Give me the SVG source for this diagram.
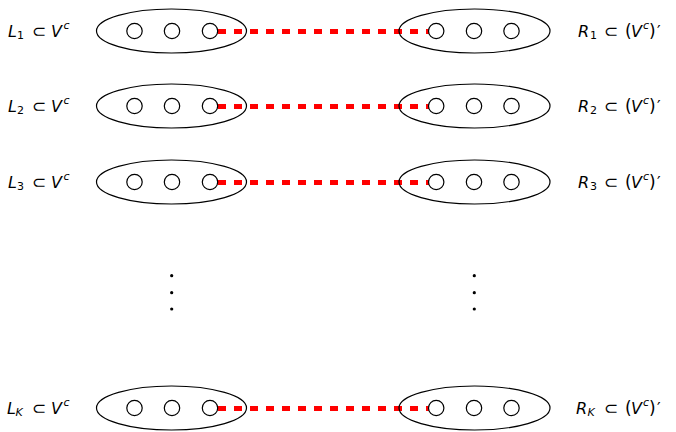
<svg xmlns="http://www.w3.org/2000/svg" width="676" height="432" viewBox="0 0 676 432">
<style>
.set{fill:none;stroke:#000;stroke-width:1.2}
.pt{fill:#fff;stroke:#000;stroke-width:1.2}
.link{stroke:#f00;stroke-width:5;stroke-dasharray:8 8;fill:none}
.lbl{font-family:"DejaVu Sans",sans-serif;font-size:16px;fill:#000}
.it{font-style:italic}
.sm{font-size:11px}
.op{font-size:17px}
.dot{fill:#000}
</style>
<defs>
<g id="setL">
<ellipse class="set" cx="171.5" cy="0" rx="75" ry="22"/>
<circle class="pt" cx="134.5" cy="0" r="7.7"/>
<circle class="pt" cx="172" cy="0" r="7.7"/>
<circle class="pt" cx="210" cy="0" r="7.7"/>
</g>
<g id="setR">
<ellipse class="set" cx="474.5" cy="0" rx="75.5" ry="22"/>
<circle class="pt" cx="436.2" cy="0" r="7.7"/>
<circle class="pt" cx="474" cy="0" r="7.7"/>
<circle class="pt" cx="511.5" cy="0" r="7.7"/>
</g>
</defs>

<g id="connectors">
<line class="link" x1="218" y1="31.5" x2="436" y2="31.5"/>
<line class="link" x1="218" y1="106.5" x2="436" y2="106.5"/>
<line class="link" x1="218" y1="182.5" x2="436" y2="182.5"/>
<line class="link" x1="218" y1="408.5" x2="436" y2="408.5"/>
</g>

<g id="L1"><use href="#setL" y="31"/>
<text class="lbl" y="37"><tspan class="it" x="8">L</tspan><tspan class="sm" x="17" y="38.5">1</tspan><tspan class="op" x="32" y="37">⊂</tspan><tspan class="it" x="51">V</tspan><tspan class="it sm" x="63.5" y="29">c</tspan></text></g>
<g id="R1"><use href="#setR" y="31"/>
<text class="lbl" y="37"><tspan class="it" x="578">R</tspan><tspan class="sm" x="590" y="38.5">1</tspan><tspan class="op" x="604" y="37">⊂</tspan><tspan class="op" x="625">(</tspan><tspan class="it" x="631">V</tspan><tspan class="it sm" x="643" y="29">c</tspan><tspan class="op" x="649" y="37">)</tspan><tspan x="657">′</tspan></text></g>

<g id="L2"><use href="#setL" y="106"/>
<text class="lbl" y="112"><tspan class="it" x="8">L</tspan><tspan class="sm" x="17" y="113.5">2</tspan><tspan class="op" x="32" y="112">⊂</tspan><tspan class="it" x="51">V</tspan><tspan class="it sm" x="63.5" y="104">c</tspan></text></g>
<g id="R2"><use href="#setR" y="106"/>
<text class="lbl" y="112"><tspan class="it" x="578">R</tspan><tspan class="sm" x="590" y="113.5">2</tspan><tspan class="op" x="604" y="112">⊂</tspan><tspan class="op" x="625">(</tspan><tspan class="it" x="631">V</tspan><tspan class="it sm" x="643" y="104">c</tspan><tspan class="op" x="649" y="112">)</tspan><tspan x="657">′</tspan></text></g>

<g id="L3"><use href="#setL" y="182"/>
<text class="lbl" y="188"><tspan class="it" x="8">L</tspan><tspan class="sm" x="17" y="189.5">3</tspan><tspan class="op" x="32" y="188">⊂</tspan><tspan class="it" x="51">V</tspan><tspan class="it sm" x="63.5" y="180">c</tspan></text></g>
<g id="R3"><use href="#setR" y="182"/>
<text class="lbl" y="188"><tspan class="it" x="578">R</tspan><tspan class="sm" x="590" y="189.5">3</tspan><tspan class="op" x="604" y="188">⊂</tspan><tspan class="op" x="625">(</tspan><tspan class="it" x="631">V</tspan><tspan class="it sm" x="643" y="180">c</tspan><tspan class="op" x="649" y="188">)</tspan><tspan x="657">′</tspan></text></g>

<g id="vdotsL"><circle class="dot" cx="171.7" cy="275.7" r="1.6"/><circle class="dot" cx="171.7" cy="292.7" r="1.6"/><circle class="dot" cx="171.7" cy="309" r="1.6"/></g>
<g id="vdotsR"><circle class="dot" cx="474.3" cy="275.7" r="1.6"/><circle class="dot" cx="474.3" cy="292.7" r="1.6"/><circle class="dot" cx="474.3" cy="309" r="1.6"/></g>

<g id="LK"><use href="#setL" y="408"/>
<text class="lbl" y="414"><tspan class="it" x="7">L</tspan><tspan class="it sm" x="15.5" y="415.5">K</tspan><tspan class="op" x="32" y="414">⊂</tspan><tspan class="it" x="51">V</tspan><tspan class="it sm" x="63.5" y="406">c</tspan></text></g>
<g id="RK"><use href="#setR" y="408"/>
<text class="lbl" y="414"><tspan class="it" x="576">R</tspan><tspan class="it sm" x="587.5" y="415.5">K</tspan><tspan class="op" x="604" y="414">⊂</tspan><tspan class="op" x="625">(</tspan><tspan class="it" x="631">V</tspan><tspan class="it sm" x="643" y="406">c</tspan><tspan class="op" x="649" y="414">)</tspan><tspan x="657">′</tspan></text></g>
</svg>
